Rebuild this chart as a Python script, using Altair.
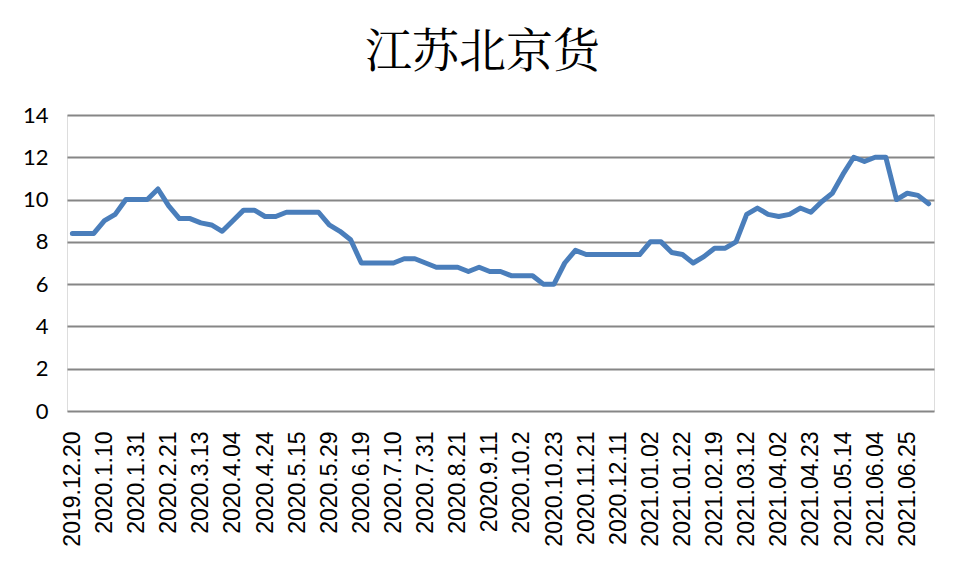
import altair as alt
import pandas as pd

title_text = "江苏北京货"

tick_labels = [
    "2019.12.20", "2020.1.10", "2020.1.31", "2020.2.21", "2020.3.13", "2020.4.04",
    "2020.4.24", "2020.5.15", "2020.5.29", "2020.6.19", "2020.7.10", "2020.7.31",
    "2020.8.21", "2020.9.11", "2020.10.2", "2020.10.23", "2020.11.21", "2020.12.11",
    "2021.01.02", "2021.01.22", "2021.02.19", "2021.03.12", "2021.04.02", "2021.04.23",
    "2021.05.14", "2021.06.04", "2021.06.25",
]

values = [
    8.4, 8.4, 8.4, 9.0, 9.3, 10.0, 10.0, 10.0, 10.5, 9.7,
    9.1, 9.1, 8.9, 8.8, 8.5, 9.0, 9.5, 9.5, 9.2, 9.2,
    9.4, 9.4, 9.4, 9.4, 8.8, 8.5, 8.1, 7.0, 7.0, 7.0,
    7.0, 7.2, 7.2, 7.0, 6.8, 6.8, 6.8, 6.6, 6.8, 6.6,
    6.6, 6.4, 6.4, 6.4, 6.0, 6.0, 7.0, 7.6, 7.4, 7.4,
    7.4, 7.4, 7.4, 7.4, 8.0, 8.0, 7.5, 7.4, 7.0, 7.3,
    7.7, 7.7, 8.0, 9.3, 9.6, 9.3, 9.2, 9.3, 9.6, 9.4,
    9.9, 10.3, 11.2, 12.0, 11.8, 12.0, 12.0, 10.0, 10.3, 10.2,
    9.8,
]

label_step = 3
n = len(values)
df = pd.DataFrame({"idx": list(range(n)), "value": values})

label_js = "[" + ",".join("'" + s + "'" for s in tick_labels) + "]"

chart = (
    alt.Chart(df)
    .mark_line(color="#4a7ebb", strokeWidth=5, strokeJoin="round", strokeCap="round")
    .encode(
        x=alt.X(
            "idx:Q",
            scale=alt.Scale(domain=[-0.5, n - 0.5], nice=False, zero=False),
            axis=alt.Axis(
                values=list(range(0, len(tick_labels) * label_step, label_step)),
                labelExpr=label_js + "[round(datum.value/" + str(label_step) + ")]",
                labelAngle=270,
                labelAlign="right",
                labelBaseline="middle",
                labelFont="Liberation Sans",
                labelFontSize=23,
                labelColor="#000000",
                labelPadding=20,
                labelOverlap=False,
                labelBound=False,
                labelFlush=False,
                ticks=False,
                domain=False,
                grid=False,
                title=None,
            ),
        ),
        y=alt.Y(
            "value:Q",
            scale=alt.Scale(domain=[0, 14], nice=False),
            axis=alt.Axis(
                values=[0, 2, 4, 6, 8, 10, 12, 14],
                labelFont="Lato",
                labelFontSize=22,
                labelColor="#000000",
                labelPadding=19,
                ticks=False,
                domain=False,
                grid=True,
                gridColor="#868686",
                gridWidth=2,
                title=None,
            ),
        ),
    )
    .properties(
        width=867,
        height=296,
        title=alt.TitleParams(
            title_text,
            font="Noto Serif CJK SC, Noto Sans CJK SC, serif",
            fontSize=47,
            fontWeight="normal",
            color="#000000",
            anchor="middle",
            frame="group",
            dx=-18,
            offset=27,
        ),
        padding={"left": 14, "top": 21, "right": 12, "bottom": 10},
    )
    .configure_view(stroke=None)
    .configure(background="#ffffff")
)

chart.save("out.html", embed_options={"renderer": "svg", "actions": False})
